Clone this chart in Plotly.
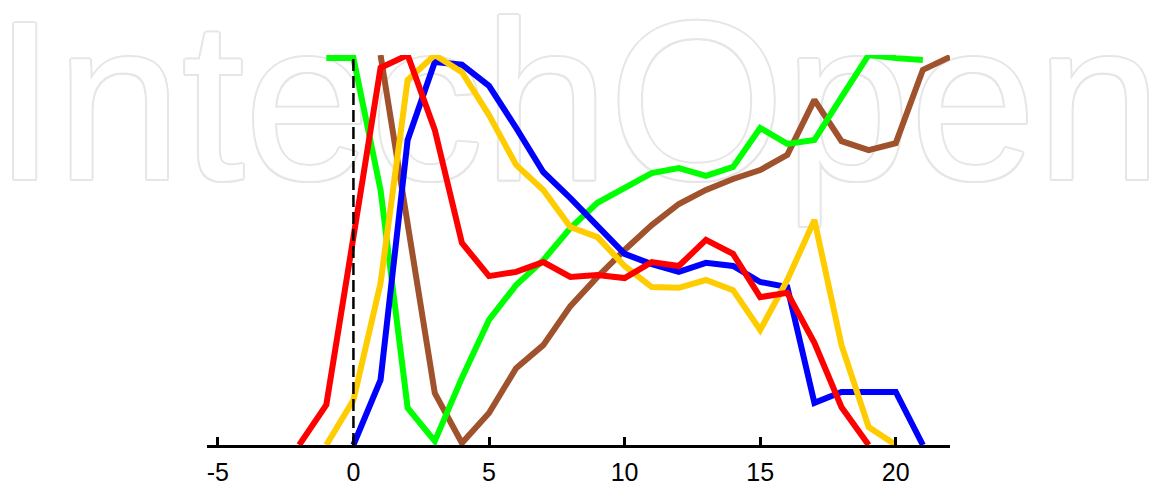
import plotly.graph_objects as go

# ---- data ----
blue_x = list(range(0, 22))
blue_y = [0.0, 0.167, 0.782, 0.982, 0.975, 0.921, 0.813, 0.700, 0.633, 0.562,
          0.490, 0.464, 0.444, 0.467, 0.459, 0.418, 0.405, 0.108, 0.136, 0.136,
          0.136, 0.0]

yellow_x = list(range(-1, 21))
yellow_y = [0.0, 0.115, 0.415, 0.936, 1.0, 0.956, 0.846, 0.718, 0.654, 0.559,
            0.533, 0.459, 0.405, 0.403, 0.423, 0.397, 0.295, 0.423, 0.577, 0.256,
            0.046, 0.0]

red_x = list(range(-2, 20))
red_y = [0.0, 0.103, 0.533, 0.967, 1.0, 0.808, 0.518, 0.433, 0.444, 0.469,
         0.431, 0.436, 0.428, 0.469, 0.459, 0.526, 0.490, 0.379, 0.390, 0.262,
         0.097, 0.0]

green_x = list(range(-1, 22))
green_y = [0.992, 0.992, 0.654, 0.095, 0.010, 0.172, 0.321, 0.410, 0.474, 0.556,
           0.621, 0.659, 0.697, 0.710, 0.690, 0.713, 0.813, 0.772, 0.782, 0.892,
           1.0, 0.992, 0.987]

brown_x = list(range(1, 23))
brown_y = [1.0, 0.569, 0.133, 0.005, 0.082, 0.197, 0.256, 0.356, 0.431, 0.500,
           0.564, 0.618, 0.654, 0.682, 0.705, 0.744, 0.885, 0.779, 0.756, 0.774,
           0.962, 0.995]

tick_vals = [-5, 0, 5, 10, 15, 20]
tick_text = ["-5", "0", "5", "10", "15", "20"]

watermark = "IntechOpen"

# ---- figure ----
fig = go.Figure()

wm_col = "#e6e6e6"
offs = ["2px 0", "-2px 0", "0 2px", "0 -2px", "1.5px 1.5px", "-1.5px -1.5px",
        "1.5px -1.5px", "-1.5px 1.5px"]
shadow = ", ".join(f"{o} 0 {wm_col}" for o in offs)

fig.add_trace(go.Scatter(
    x=[8.26], y=[0.826], mode="text", text=[watermark],
    textposition="middle center",
    textfont=dict(family="Liberation Sans, Arial, sans-serif", size=226,
                  color="white", shadow=shadow),
    cliponaxis=False, hoverinfo="skip", showlegend=False))

series = [
    (brown_x, brown_y, "#a0522d"),
    (green_x, green_y, "#00ff00"),
    (blue_x, blue_y, "#0000ff"),
    (yellow_x, yellow_y, "#ffcc00"),
    (red_x, red_y, "#ff0000"),
]
for xs, ys, col in series:
    fig.add_trace(go.Scatter(x=xs, y=ys, mode="lines",
                             line=dict(color=col, width=6),
                             hoverinfo="skip", showlegend=False))

fig.add_shape(type="line", xref="x", yref="y", x0=0, x1=0, y0=0, y1=0.99,
              line=dict(color="black", width=2.5, dash="12px,5px"))

fig.update_layout(
    width=1151, height=487,
    margin=dict(l=207, r=201, t=55, b=42, autoexpand=False),
    paper_bgcolor="white", plot_bgcolor="white",
    showlegend=False,
    xaxis=dict(range=[-5.4, 22], showgrid=False, zeroline=False,
               automargin=False,
               showline=True, linecolor="black", linewidth=3,
               ticks="inside", ticklen=8, tickwidth=3, tickcolor="black",
               tickmode="array", tickvals=tick_vals, ticktext=tick_text,
               ticklabelstandoff=3,
               tickfont=dict(family="Liberation Sans, Arial, sans-serif",
                             size=25, color="black")),
    yaxis=dict(range=[0, 1], visible=False, showgrid=False, zeroline=False,
               automargin=False),
)

fig.write_html("out.html", config={"displayModeBar": False},
               post_script="document.body.style.margin='0px';")
